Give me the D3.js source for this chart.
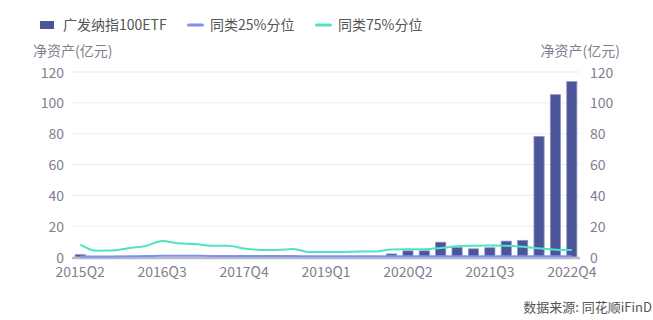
<!doctype html>
<html>
<head>
<meta charset="utf-8">
<script src="https://cdnjs.cloudflare.com/ajax/libs/d3/7.8.5/d3.min.js"></script>
<style>
  body { margin: 0; background: #fff; font-family: "Noto Sans CJK SC", "Noto Sans", sans-serif; }
  text { font-family: "Noto Sans CJK SC", "Noto Sans", sans-serif; }
</style>
</head>
<body>
<div id="viz"></div>
<script>
// quarters 2015Q2 .. 2022Q4
var quarters = [];
for (var yr = 2015; yr <= 2022; yr++) {
  for (var q = 1; q <= 4; q++) {
    if (yr === 2015 && q < 2) continue;
    quarters.push(yr + "Q" + q);
  }
}
var tickLabels = ["2015Q2", "2016Q3", "2017Q4", "2019Q1", "2020Q2", "2021Q3", "2022Q4"];

var fundAssets = [1.5, null, null, null, null, null, null, null, null, null,
  null, null, null, null, null, null, null, null, null, 2.0,
  4.0, 4.0, 9.6, 6.2, 5.3, 6.0, 10.3, 10.8, 78.2, 105.3, 113.8];
var p25 = [0.4, 0.4, 0.4, 0.5, 0.6, 0.8, 0.8, 0.8, 0.7, 0.7,
  0.6, 0.6, 0.6, 0.6, 0.5, 0.5, 0.5, 0.5, 0.5, 0.5,
  0.5, 0.5, 0.5, 0.5, 0.5, 0.5, 0.5, 0.5, 0.5, 0.5, 0.5];
var p75 = [8.1, 4.1, 4.2, 5.8, 7.2, 10.4, 8.9, 8.4, 7.3, 7.3,
  5.5, 4.6, 4.6, 5.2, 3.2, 3.2, 3.3, 3.5, 3.6, 4.9,
  5.0, 5.1, 5.9, 7.0, 7.3, 7.4, 7.3, 6.6, 5.6, 4.7, 4.5];
var yTicks = [0, 20, 40, 60, 80, 100, 120];

var W = 653, H = 320;
var margin = { left: 72, right: 73, top: 72, bottom: 63 };
var innerW = W - margin.left - margin.right,
    innerH = H - margin.top - margin.bottom;

var svg = d3.select("#viz").append("svg")
  .attr("width", W).attr("height", H);

var x = d3.scaleBand().domain(quarters).range([margin.left, margin.left + innerW]).paddingInner(0.38).paddingOuter(0.19);
var xc = d => x(d) + x.bandwidth() / 2;
var y = d3.scaleLinear().domain([0, 120]).range([margin.top + innerH, margin.top]);

var tickColor = "#80808f";

// grid
svg.append("g").selectAll("line").data(yTicks.slice(1)).enter().append("line")
  .attr("x1", margin.left).attr("x2", margin.left + innerW)
  .attr("y1", d => y(d)).attr("y2", d => y(d))
  .attr("stroke", "#ebebf3").attr("stroke-width", 1);

// left axis labels
var yl = svg.append("g").attr("transform", "translate(" + (margin.left - 8) + ",0)")
  .call(d3.axisLeft(y).tickValues(yTicks).tickSize(0).tickPadding(0));
yl.select(".domain").remove();
yl.selectAll("text").attr("fill", tickColor).style("font-size", "14px").attr("dy", "0.36em");

var yr2 = svg.append("g").attr("transform", "translate(" + (margin.left + innerW + 10) + ",0)")
  .call(d3.axisRight(y).tickValues(yTicks).tickSize(0).tickPadding(0));
yr2.select(".domain").remove();
yr2.selectAll("text").attr("fill", tickColor).style("font-size", "14px").attr("dy", "0.36em");

// axis titles
svg.append("text").attr("x", 33).attr("y", 56).attr("fill", tickColor)
  .style("font-size", "14px").text("净资产(亿元)");
svg.append("text").attr("x", 620).attr("y", 56).attr("fill", tickColor)
  .attr("text-anchor", "end").style("font-size", "14px").text("净资产(亿元)");

// bars
svg.append("g").selectAll("rect")
  .data(quarters.map((q, i) => ({ q: q, v: fundAssets[i] })).filter(d => d.v != null))
  .enter().append("rect")
  .attr("x", d => x(d.q)).attr("width", x.bandwidth())
  .attr("y", d => y(d.v)).attr("height", d => y(0) - y(d.v))
  .attr("fill", "#4b5597").attr("stroke", "#8c94c6").attr("stroke-width", 0.8);

// x axis line
svg.append("line").attr("x1", margin.left).attr("x2", margin.left + innerW)
  .attr("y1", y(0) + 1).attr("y2", y(0) + 1)
  .attr("stroke", "#b9b9c6").attr("stroke-width", 2.5);

// lines
var line = d3.line().x((d, i) => xc(quarters[i])).y(d => y(d)).curve(d3.curveMonotoneX);
svg.append("path").datum(p25).attr("d", line).attr("fill", "none")
  .attr("stroke", "#7f90f5").attr("stroke-width", 2);
svg.append("path").datum(p75).attr("d", line).attr("fill", "none")
  .attr("stroke", "#4fe3c3").attr("stroke-width", 2);

// x labels
svg.append("g").selectAll("text").data(tickLabels).enter().append("text")
  .attr("x", d => xc(d)).attr("y", y(0) + 20)
  .attr("text-anchor", "middle").attr("fill", tickColor)
  .style("font-size", "14px").text(d => d);

// legend
var legend = [
  { name: "广发纳指100ETF", color: "#4b5597", type: "rect", x: 40 },
  { name: "同类25%分位", color: "#7f90f5", type: "line", x: 187 },
  { name: "同类75%分位", color: "#4fe3c3", type: "line", x: 315 }
];
var lg = svg.append("g").selectAll("g").data(legend).enter().append("g")
  .attr("transform", d => "translate(" + d.x + ",25)");
lg.filter(d => d.type === "rect").append("rect")
  .attr("x", 0).attr("y", -4).attr("width", 14).attr("height", 8).attr("fill", d => d.color);
lg.filter(d => d.type === "line").append("rect")
  .attr("x", 0).attr("y", -1.5).attr("width", 17).attr("height", 3).attr("rx", 1.5).attr("fill", d => d.color);
lg.append("text").attr("x", 23).attr("y", 0).attr("dy", "0.36em")
  .attr("fill", "#555").style("font-size", "14px").text(d => d.name);

// source
svg.append("text").attr("x", 652).attr("y", 312).attr("text-anchor", "end")
  .attr("fill", "#555").style("font-size", "13px").text("数据来源: 同花顺iFinD");
</script>
</body>
</html>
